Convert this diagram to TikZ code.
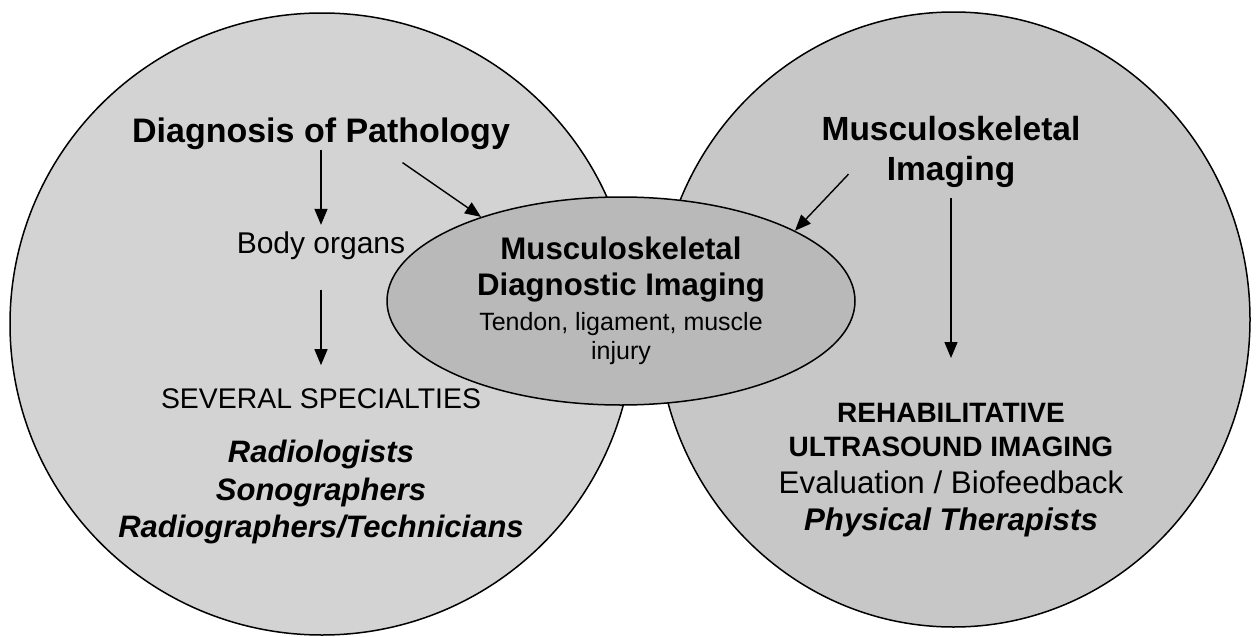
\documentclass[tikz,border=0pt]{standalone}
\usepackage{fontspec}
\setsansfont{Liberation Sans}
\usetikzlibrary{arrows.meta,shapes.geometric}
\definecolor{zoneL}{HTML}{D3D3D3}
\definecolor{zoneR}{HTML}{C7C7C7}
\definecolor{zoneC}{HTML}{B9B9B9}

\begin{document}
\begin{tikzpicture}[
  x=0.5pt, y=-0.5pt,
  font=\sffamily,
  zone/.style={draw=black, line width=0.75pt, fill=#1, ellipse, inner sep=0pt},
  lbl/.style={inner sep=0pt, align=center},
  arr/.style={line width=0.7pt, -{Triangle[width=6.5pt,length=8pt]}},
]
\useasboundingbox (0,0) rectangle (1259,637);
% the two fields and their overlap
\node[zone=zoneL, minimum width=312pt, minimum height=311pt] (lcirc) at (322,324) {};
\node[zone=zoneR, minimum width=296.5pt, minimum height=307.5pt] (rcirc) at (953.5,319.5) {};
\node[zone=zoneC, minimum width=234pt, minimum height=104pt, lbl,
  font=\sffamily\bfseries\fontsize{15.6}{18}\selectfont] (core) at (621,301)
  {Musculoskeletal\\Diagnostic Imaging\\[-0.5pt]{\mdseries\fontsize{12.5}{14.5}\selectfont Tendon, ligament, muscle}\\[-3.5pt]{\mdseries\fontsize{12.5}{14.5}\selectfont injury}};
% left field
\node[lbl, anchor=base, font=\sffamily\bfseries\fontsize{17}{20}\selectfont] (diag) at (321,142) {Diagnosis of Pathology};
\node[lbl, anchor=base, font=\sffamily\fontsize{15}{18}\selectfont] (organs) at (321,253) {Body organs};
\node[lbl, anchor=base, font=\sffamily\fontsize{14.2}{17}\selectfont] (several) at (321,408) {SEVERAL SPECIALTIES};
\node[lbl, anchor=north, font=\sffamily\bfseries\itshape\fontsize{15.5}{18.75}\selectfont] (roles) at (321,440)
  {Radiologists\\Sonographers\\Radiographers/Technicians};
% right field
\node[lbl, anchor=north, font=\sffamily\bfseries\fontsize{16.75}{20}\selectfont] (msk) at (951,116) {Musculoskeletal\\Imaging};
\node[lbl, anchor=north, font=\sffamily\bfseries\fontsize{14}{17}\selectfont] (rehab) at (951,403) {REHABILITATIVE\\ULTRASOUND IMAGING};
\node[lbl, anchor=north, font=\sffamily\fontsize{15.65}{18.5}\selectfont] (eval) at (951,470.5)
  {Evaluation / Biofeedback\\\textbf{\textit{Physical Therapists}}};
% arrows
\draw[arr, shorten >=3pt] (diag.south) -- (organs.north);
\draw[arr, shorten <=15pt, shorten >=11.3pt] (organs.south) -- (several.north);
\draw[arr] ([xshift=40.75pt,yshift=-6.5pt]diag.south) -- (core.149);
\draw[arr] ([xshift=-51.25pt,yshift=7pt]msk.south) -- (core.22);
\draw[arr, shorten <=5pt, shorten >=22.5pt] (msk.south) -- (rehab.north);
\end{tikzpicture}
\end{document}
